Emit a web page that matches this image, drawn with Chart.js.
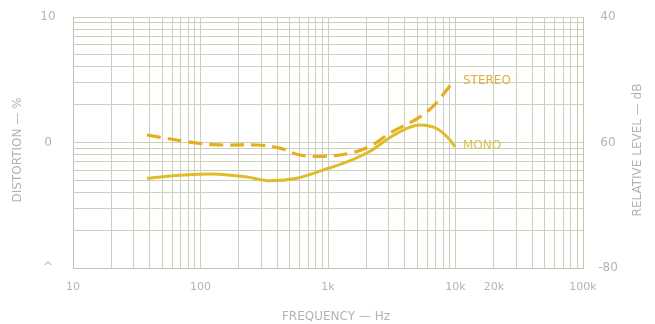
<!DOCTYPE html>
<html>
<head>
<meta charset="utf-8">
<script src="https://cdn.jsdelivr.net/npm/chart.js@4.4.1/dist/chart.umd.min.js"></script>
<style>
  html, body { margin: 0; padding: 0; background: #fff; }
  #wrap { width: 655px; height: 324px; }
</style>
</head>
<body>
<div id="wrap"><canvas id="c" width="655" height="324"></canvas></div>
<script>
// data (frequency in Hz, level in dB)
const stereoFreq = [38, 94, 150, 277, 420, 603, 914, 1489, 2135, 3065, 5976, 9910];
const stereoDb   = [-58.8, -60.1, -60.4, -60.4, -60.9, -62.0, -62.2, -61.7, -60.6, -58.5, -55.1, -50.0];
const monoFreq = [38, 69, 125, 232, 351, 572, 914, 1409, 2135, 3065, 4200, 5266, 7163, 9057, 9910];
const monoDb   = [-65.7, -65.2, -65.0, -65.5, -66.1, -65.7, -64.4, -63.1, -61.4, -59.2, -57.7, -57.2, -57.8, -59.6, -60.7];

const xTickVals = [10, 100, 1000, 10000, 20000, 100000];
const xTickText = ['10', '100', '1k', '10k', '20k', '100k'];
const leftTickVals = [10, 1, 0.1];
const leftTickText = ['10', '0', '^'];
const rightTickVals = [-40, -60, -80];
const rightTickText = ['40', '60', '-80'];

const gridCol = '#cdcfbd';
const textCol = '#b4b4ac';

function logGrid(lo, hi) {
  const out = [];
  for (let d = lo; d < hi; d *= 10) {
    for (let m = 1; m < 10; m++) out.push(d * m);
  }
  out.push(hi);
  return out;
}

const labelsPlugin = {
  id: 'labels',
  afterDraw(chart) {
    const ctx = chart.ctx;
    const xs = chart.scales.x, yl = chart.scales.yL, yr = chart.scales.y;
    const a = chart.chartArea;
    ctx.save();
    ctx.fillStyle = textCol;
    ctx.font = '11px "DejaVu Sans"';
    ctx.textAlign = 'center';
    ctx.textBaseline = 'middle';
    xTickVals.forEach((v, i) => ctx.fillText(xTickText[i], xs.getPixelForValue(v), a.bottom + 19));
    ctx.font = '12px "DejaVu Sans"';
    leftTickVals.forEach((v, i) => ctx.fillText(leftTickText[i], a.left - 25, yl.getPixelForValue(v)));
    rightTickVals.forEach((v, i) => ctx.fillText(rightTickText[i], a.right + 25, yr.getPixelForValue(v)));
    ctx.fillText('FREQUENCY — Hz', (a.left + a.right) / 2 + 8, 317);
    ctx.save();
    ctx.translate(18, 150);
    ctx.rotate(-Math.PI / 2);
    ctx.fillText('DISTORTION — %', 0, 0);
    ctx.restore();
    ctx.save();
    ctx.translate(638, 150);
    ctx.rotate(-Math.PI / 2);
    ctx.fillText('RELATIVE LEVEL — dB', 0, 0);
    ctx.restore();
    // series names
    ctx.textAlign = 'left';
    ctx.font = '12px "DejaVu Sans"';
    ctx.fillStyle = '#e0b040';
    ctx.fillText('STEREO', xs.getPixelForValue(stereoFreq[stereoFreq.length - 1]) + 8, yr.getPixelForValue(stereoDb[stereoDb.length - 1]) + 1);
    ctx.fillStyle = '#dcc050';
    ctx.fillText('MONO', xs.getPixelForValue(monoFreq[monoFreq.length - 1]) + 8, yr.getPixelForValue(monoDb[monoDb.length - 1]) - 1);
    ctx.restore();
  }
};

new Chart(document.getElementById('c'), {
  type: 'scatter',
  data: {
    datasets: [
      {
        label: 'STEREO',
        data: stereoFreq.map((f, i) => ({ x: f, y: stereoDb[i] })),
        showLine: true, borderColor: '#e6ad1e', borderWidth: 3.2,
        borderDash: [14, 7], pointRadius: 0, tension: 0.4, yAxisID: 'y'
      },
      {
        label: 'MONO',
        data: monoFreq.map((f, i) => ({ x: f, y: monoDb[i] })),
        showLine: true, borderColor: '#dfbd2a', borderWidth: 3,
        pointRadius: 0, tension: 0.4, cubicInterpolationMode: 'monotone', yAxisID: 'y'
      }
    ]
  },
  options: {
    responsive: false,
    animation: false,
    layout: { padding: { left: 73, right: 72, top: 17, bottom: 56 } },
    plugins: { legend: { display: false }, tooltip: { enabled: false } },
    scales: {
      x: {
        type: 'logarithmic', min: 10, max: 100000,
        afterBuildTicks: s => { s.ticks = logGrid(10, 100000).map(v => ({ value: v })); },
        ticks: { display: false },
        grid: { color: gridCol, lineWidth: 1, drawTicks: false },
        border: { color: '#c4c4b4' }
      },
      yL: {
        type: 'logarithmic', position: 'left', min: 0.1, max: 10,
        afterBuildTicks: s => { s.ticks = logGrid(0.1, 10).map(v => ({ value: v })); },
        ticks: { display: false },
        grid: { color: gridCol, lineWidth: 1, drawTicks: false },
        border: { color: '#c4c4b4' }
      },
      y: {
        type: 'linear', position: 'right', min: -80, max: -40,
        ticks: { display: false },
        grid: { display: false, drawTicks: false },
        border: { color: '#c4c4b4' }
      }
    }
  },
  plugins: [labelsPlugin]
});
</script>
</body>
</html>
